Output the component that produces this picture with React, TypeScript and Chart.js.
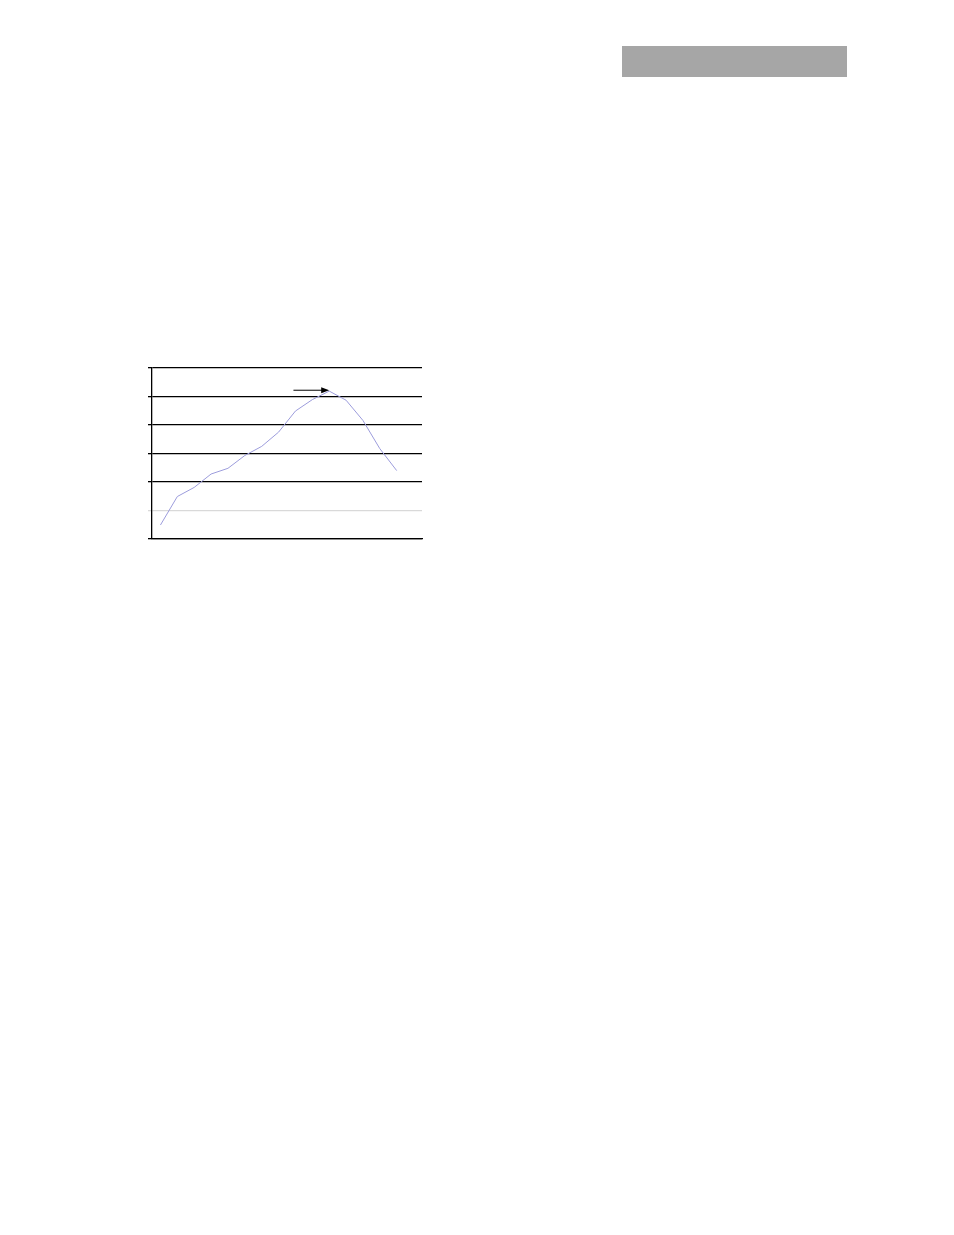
import { useEffect, useRef } from "react";
import { Chart, registerables } from "chart.js";

Chart.register(...registerables);

// 16 category slots, the last one left empty
const categories = Array.from({ length: 16 }, (_, i) => String(i + 1));
const values = [
  0.49, 1.49, 1.81, 2.28, 2.48, 2.93, 3.25, 3.75, 4.49, 4.89, 5.19, 4.87, 4.16,
  3.17, 2.4, null,
];
const yTicks = [0, 1, 2, 3, 4, 5, 6];
// arrow pointing at the peak: from category index to category index, at a value
const arrowFrom = 8;
const arrowTo = 10;
const arrowValue = 5.22;

Chart.register({
  id: "peakArrow",
  afterDatasetsDraw(chart) {
    const { ctx, scales } = chart;
    const x0 = scales.x.getPixelForValue(arrowFrom) - 2;
    const x1 = scales.x.getPixelForValue(arrowTo);
    const y = scales.y.getPixelForValue(arrowValue);
    ctx.save();
    ctx.strokeStyle = "#000";
    ctx.fillStyle = "#000";
    ctx.lineWidth = 1;
    ctx.beginPath();
    ctx.moveTo(x0, y);
    ctx.lineTo(x1 - 6, y);
    ctx.stroke();
    ctx.beginPath();
    ctx.moveTo(x1, y);
    ctx.lineTo(x1 - 8, y - 3);
    ctx.lineTo(x1 - 8, y + 3);
    ctx.closePath();
    ctx.fill();
    ctx.restore();
  },
});

const LineChart = () => {
  const chartRef = useRef<HTMLCanvasElement | null>(null);
  const chartInstance = useRef<Chart | null>(null);

  useEffect(() => {
    if (!chartRef.current) return;
    if (chartInstance.current) chartInstance.current.destroy();

    chartInstance.current = new Chart(chartRef.current, {
      type: "line",
      data: {
        labels: categories,
        datasets: [
          {
            data: values,
            borderColor: "#9c9cdc",
            borderWidth: 1,
            pointRadius: 0,
            tension: 0,
            spanGaps: false,
          },
        ],
      },
      options: {
        animation: false,
        responsive: false,
        maintainAspectRatio: false,
        layout: { padding: { left: 8, top: 10, right: 8, bottom: 9 } },
        plugins: { legend: { display: false }, tooltip: { enabled: false } },
        scales: {
          x: {
            offset: true,
            grid: { display: false, drawTicks: false },
            ticks: { display: false },
            border: { display: true, color: "#000", width: 1.3 },
          },
          y: {
            min: yTicks[0],
            max: yTicks[yTicks.length - 1],
            afterBuildTicks: (axis) => {
              axis.ticks = yTicks.map((v) => ({ value: v }));
            },
            ticks: { display: false },
            grid: {
              color: (c) => (c.tick && c.tick.value === 1 ? "#d9d9d9" : "#000"),
              lineWidth: 1.3,
              tickLength: 4,
            },
            border: { display: true, color: "#000", width: 1.3 },
          },
        },
      },
    });

    return () => {
      if (chartInstance.current) {
        chartInstance.current.destroy();
        chartInstance.current = null;
      }
    };
  }, []);

  return (
    <canvas
      ref={chartRef}
      width={290}
      height={190}
      style={{ position: "absolute", left: 140, top: 358, width: 290, height: 190 }}
    />
  );
};

export default function App() {
  return (
    <div style={{ position: "relative", width: 954, height: 1235 }}>
      <div
        style={{
          position: "absolute",
          left: 614,
          top: 38,
          width: 225,
          height: 31,
          background: "#a6a6a6",
        }}
      />
      <div style={{ position: "absolute", left: -8, top: -8 }}>
        <LineChart />
      </div>
    </div>
  );
}
